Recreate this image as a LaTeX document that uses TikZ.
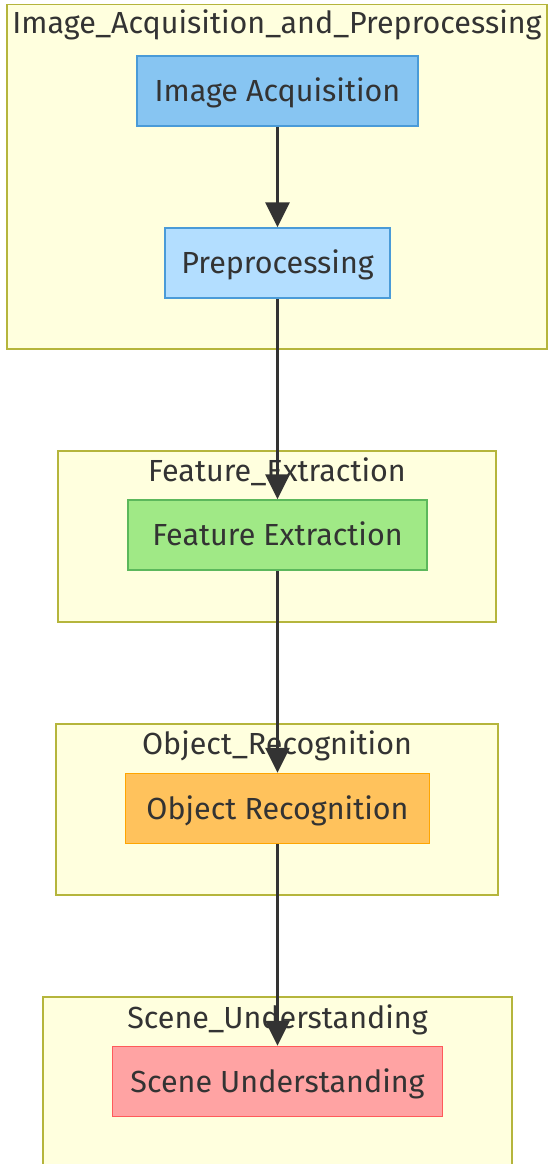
\documentclass[tikz,border=0pt]{standalone}
\usepackage{fontspec}
\setmainfont{Fira Sans}
\usetikzlibrary{positioning,arrows.meta}
\definecolor{cGroup}{HTML}{FFFFDE}
\definecolor{cGroupLine}{HTML}{B5B53C}
\definecolor{cText}{HTML}{333333}
\definecolor{cAcq}{HTML}{87C5F2}
\definecolor{cAcqLine}{HTML}{4A9BD8}
\definecolor{cPre}{HTML}{B3DEFF}
\definecolor{cFeat}{HTML}{A0E986}
\definecolor{cFeatLine}{HTML}{5CB85C}
\definecolor{cObj}{HTML}{FFC25C}
\definecolor{cObjLine}{HTML}{FFA500}
\definecolor{cScene}{HTML}{FFA3A3}
\definecolor{cSceneLine}{HTML}{FF5A5A}
\tikzset{
  base/.style={draw,align=center,text=cText,font=\fontsize{30.5}{34}\selectfont,minimum height=70pt,inner sep=0pt,
    text height=21pt,text depth=0pt,line width=1.5pt},
  anode/.style={base,fill=cAcq,draw=cAcqLine}, pnode/.style={base,fill=cPre,draw=cAcqLine},
  fnode/.style={base,fill=cFeat,draw=cFeatLine}, onode/.style={base,fill=cObj,draw=cObjLine},
  snode/.style={base,fill=cScene,draw=cSceneLine},
  group/.style={draw=cGroupLine,fill=cGroup,line width=1.5pt,inner sep=0pt,anchor=north},
  gtitle/.style={text=cText,font=\fontsize{30.5}{34}\selectfont,inner sep=0pt},
  arr/.style={-{Triangle[width=24pt,length=25pt]},line width=3pt,draw=cText}}

\begin{document}
\begin{tikzpicture}[x=1pt,y=-1pt]
\clip (0,0) rectangle (548,1164);
% stage boxes
\node[group,minimum width=540pt,minimum height=344pt] (g1) at (277,4) {};
\node[group,minimum width=438pt,minimum height=171pt] (g2) at (277,450) {};
\node[group,minimum width=442pt,minimum height=171pt] (g3) at (277,723) {};
\node[group,minimum width=469pt,minimum height=200pt] (g4) at (277.5,996) {};
\node[gtitle,below=6pt of g1.north] (t1) {Image\_Acquisition\_and\_Preprocessing};
\node[gtitle,below=8pt of g2.north] (t2) {Feature\_Extraction};
\node[gtitle,below=8pt of g3.north] (t3) {Object\_Recognition};
\node[gtitle,below=8pt of g4.north] (t4) {Scene\_Understanding};
% pipeline steps
\node[anode,minimum width=281pt] (acq) at (277.5,91) {Image Acquisition};
\node[pnode,minimum width=225pt] (pre) at (277.5,263) {Preprocessing};
\node[fnode,minimum width=299pt] (feat) at (277.5,535) {Feature Extraction};
\node[onode,minimum width=304pt] (obj) at (277.5,808.5) {Object Recognition};
\node[snode,minimum width=330pt] (scene) at (277.5,1081.5) {Scene Understanding};
\foreach \a/\b in {acq/pre, pre/feat, feat/obj, obj/scene}
  \draw[arr] (\a) -- (\b);
\end{tikzpicture}
\end{document}
